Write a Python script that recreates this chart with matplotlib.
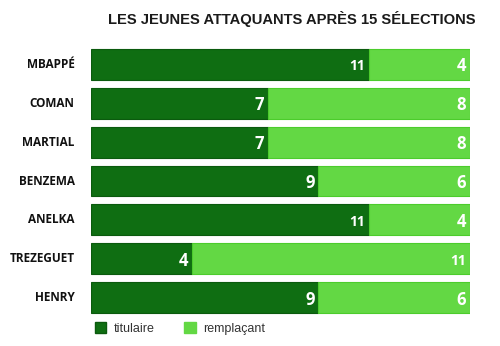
import matplotlib
matplotlib.use("Agg")
import matplotlib.pyplot as plt
from matplotlib.patches import Patch

players = ["MBAPPÉ", "COMAN", "MARTIAL", "BENZEMA", "ANELKA", "TREZEGUET", "HENRY"]
titulaire = [11, 7, 7, 9, 11, 4, 9]
remplacant = [4, 8, 8, 6, 4, 11, 6]
title = "LES JEUNES ATTAQUANTS APRÈS 15 SÉLECTIONS"
legend_labels = ["titulaire", "remplaçant"]

dark = "#0f6e12"
light = "#63d844"

fig = plt.figure(figsize=(5, 3.46), dpi=100)
ax = fig.add_axes([0.182, 0.0838, 0.758, 0.786])
y = list(range(len(players)))
ax.barh(y, titulaire, height=0.795, color=dark, edgecolor="#0b5a0e", linewidth=0.8)
ax.barh(y, remplacant, left=titulaire, height=0.795, color=light, edgecolor="#4ccc2c", linewidth=0.8)
ax.set_xlim(0, 15)
ax.set_ylim(len(players) - 0.5, -0.5)
ax.axis("off")

for i, (t, r) in enumerate(zip(titulaire, remplacant)):
    for val, end in ((t, t), (r, t + r)):
        fs = 10 if val >= 10 else 12
        ax.text(end - 0.15, i + 0.05, str(val), ha="right", va="center", color="white",
                fontsize=fs, fontweight="bold", family="Open Sans")
    ax.text(-0.65, i, players[i], ha="right", va="center", fontsize=8.5, fontweight="bold",
            family="Open Sans", color="#111111")

fig.text(0.584, 0.945, title, ha="center", va="center", fontsize=10.6, fontweight="bold",
         family="Liberation Sans", color="#1a1a1a")

handles = [Patch(facecolor=dark, edgecolor="#0b5a0e"), Patch(facecolor=light, edgecolor=light)]
leg = fig.legend(handles, legend_labels, loc="center left", bbox_to_anchor=(0.167, 0.05),
                 ncol=2, frameon=False, fontsize=9, handlelength=0.9, handleheight=0.9,
                 columnspacing=2.4, handletextpad=0.6)
for t in leg.get_texts():
    t.set_color("#333333")
    t.set_family("Liberation Sans")

fig.savefig("out.png", dpi=100)
